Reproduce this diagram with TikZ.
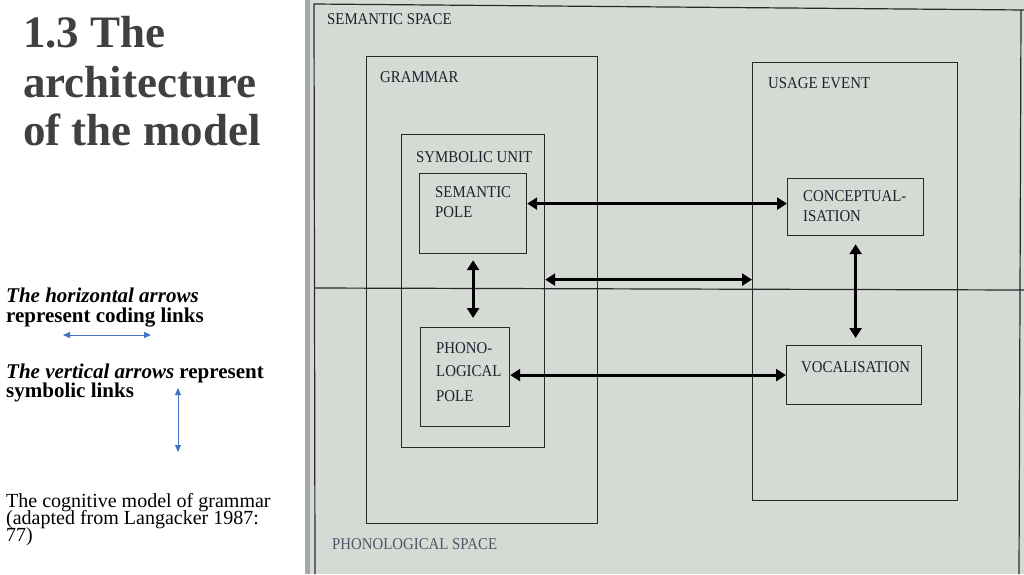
\documentclass[tikz,border=0pt]{standalone}
\usepackage{fontspec}
\setmainfont{Liberation Serif}
\newfontfamily\lblfont[FakeStretch=0.9]{Liberation Serif}
\usetikzlibrary{arrows.meta}
\definecolor{photobg}{RGB}{214,218,213}
\definecolor{stripc}{RGB}{165,168,165}
\definecolor{linec}{RGB}{40,40,42}
\definecolor{lblc}{RGB}{30,32,44}
\definecolor{spacec}{RGB}{80,84,100}
\definecolor{titlec}{RGB}{64,64,64}
\definecolor{bluearr}{RGB}{68,114,196}
\begin{document}
\begin{tikzpicture}[x=1pt,y=-1pt,
  box/.style={draw=linec, line width=1.2pt, inner sep=0pt, anchor=north west},
  lbl/.style={anchor=base west, inner sep=0pt, text=lblc, font=\lblfont\fontsize{16.5}{18}\selectfont},
  titletext/.style={anchor=base west, inner sep=0pt, text=titlec, font=\bfseries\fontsize{45}{49}\selectfont},
  notetext/.style={anchor=base west, inner sep=0pt, text=black, font=\bfseries\fontsize{21}{19}\selectfont},
  captext/.style={anchor=base west, inner sep=0pt, text=black, font=\fontsize{20}{15}\selectfont},
  biarrow/.style={draw=black, line width=3pt, >={Triangle[length=10pt,width=12pt]}, <->},
  bluearrow/.style={draw=bluearr, line width=1pt, >={Triangle[length=7pt,width=6pt]}, <->},
  frameline/.style={draw=linec, line width=1.2pt}]
\useasboundingbox (0,0) rectangle (1024,574);
\fill[white] (0,0) rectangle (1024,574);
% photo background
\fill[photobg] (305,0) rectangle (1024,574);
\fill[stripc] (305,0) rectangle (310,574);
% space frame
\coordinate (ftl) at (314,4);
\coordinate (ftr) at (1024,10);
\coordinate (fbl) at (315,574);
\coordinate (fml) at (314,288);
\coordinate (fmr) at (1024,290);
\coordinate (frt) at (1021,10);
\coordinate (frb) at (1019,574);
\draw[frameline] (fbl) -- (ftl) -- (ftr);
\draw[frameline] (fml) -- (fmr);
\draw[frameline] (frt) -- (frb);
% boxes
\node[box, minimum width=231pt, minimum height=467pt] (grammar) at (366,56) {};
\node[box, minimum width=205pt, minimum height=438pt] (usage) at (752,62) {};
\node[box, minimum width=143pt, minimum height=313pt] (symunit) at (401,134) {};
\node[box, minimum width=107pt, minimum height=80pt] (sempole) at (419,173) {};
\node[box, minimum width=89pt, minimum height=99pt] (phono) at (420,327) {};
\node[box, minimum width=136pt, minimum height=57pt] (concept) at (787,178) {};
\node[box, minimum width=135pt, minimum height=59pt] (vocal) at (786,345) {};
% labels
\node[lbl] (lsemspace) at (327,24) {SEMANTIC SPACE};
\node[lbl] (lgrammar) at (380,82) {GRAMMAR};
\node[lbl] (lusage) at (768,88) {USAGE EVENT};
\node[lbl] (lsymunit) at (416,162) {SYMBOLIC UNIT};
\node[lbl] (lsem1) at (435,197) {SEMANTIC};
\node[lbl] (lsem2) at (435,217) {POLE};
\node[lbl] (lph1) at (436,353) {PHONO-};
\node[lbl] (lph2) at (436,376) {LOGICAL};
\node[lbl] (lph3) at (436,401) {POLE};
\node[lbl] (lcon1) at (803,201) {CONCEPTUAL-};
\node[lbl] (lcon2) at (803,221) {ISATION};
\node[lbl] (lvoc) at (801,372) {VOCALISATION};
\node[lbl, text=spacec] (lphonspace) at (332,549) {PHONOLOGICAL SPACE};
% coding / symbolic links
\draw[biarrow] ([yshift=10pt]sempole.east) -- ([yshift=10pt]sempole.east -| concept.west);
\draw[biarrow] ([yshift=2pt]usage.west -| symunit.east) -- ([yshift=2pt]usage.west);
\draw[biarrow] (vocal.west -| phono.east) -- (vocal.west);
\draw[biarrow] ([yshift=-6pt]sempole.south) -- ([yshift=9pt]sempole.south |- phono.north);
\draw[biarrow] ([yshift=-8pt]concept.south) -- ([yshift=7pt]concept.south |- vocal.north);
% left text
\node[titletext] (t1) at (23,47) {1.3 The};
\node[titletext] (t2) at (23,97) {architecture};
\node[titletext] (t3) at (23,145) {of the model};
\node[notetext] (n1) at (6,302) {\textit{The horizontal arrows}};
\node[notetext] (n2) at (6,322) {represent coding links};
\coordinate (hb1) at (63,335);
\coordinate (hb2) at (151,335);
\draw[bluearrow] (hb1) -- (hb2);
\node[notetext] (n3) at (6,378) {\textit{The vertical arrows} represent};
\node[notetext] (n4) at (6,397) {symbolic links};
\coordinate (vb1) at (178,388);
\coordinate (vb2) at (178,452);
\draw[bluearrow] (vb1) -- (vb2);
\node[captext] (c1) at (6,507) {The cognitive model of grammar};
\node[captext] (c2) at (6,524) {(adapted from Langacker 1987:};
\node[captext] (c3) at (6,541) {77)};
\end{tikzpicture}
\end{document}
